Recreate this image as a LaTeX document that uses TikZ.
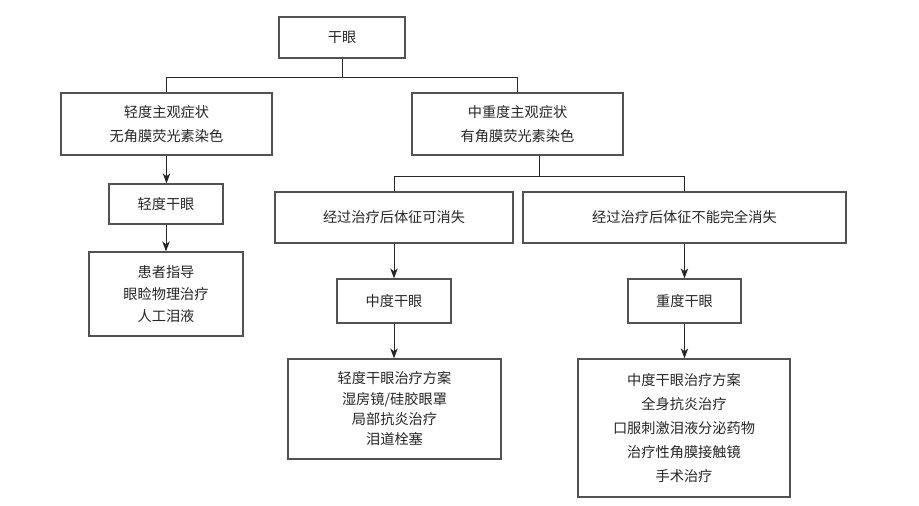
\documentclass[tikz,border=0pt]{standalone}
\usepackage{fontspec}
\newfontfamily\cjk{Noto Sans CJK SC}
\usetikzlibrary{arrows.meta}
\begin{document}
\begin{tikzpicture}[x=1pt,y=-1pt,
  box/.style={draw=black!68, line width=1.3pt, fill=white, inner sep=0pt, align=center,
    text=black!85, font=\cjk\fontsize{14.2}{24}\selectfont},
  link/.style={draw=black!85, line width=0.9pt},
  arr/.style={link, -{Stealth[length=10pt,width=7.5pt,inset=3pt]}}]
\useasboundingbox (0,0) rectangle (919,506);
\node[box, minimum width=126pt, minimum height=41pt] (gan) at (342,37.5) {干眼};
\node[box, minimum width=211pt, minimum height=62pt] (mild) at (166.5,124) {轻度主观症状\\无角膜荧光素染色};
\node[box, minimum width=211pt, minimum height=62pt] (modsev) at (517.5,124) {中重度主观症状\\有角膜荧光素染色};
\node[box, minimum width=114pt, minimum height=40pt] (mildDE) at (166,204) {轻度干眼};
\node[box, minimum width=154pt, minimum height=84pt, font=\cjk\fontsize{14.2}{22}\selectfont] (mildTx) at (166,294) {患者指导\\眼睑物理治疗\\人工泪液};
\node[box, minimum width=238pt, minimum height=51pt] (vanish) at (394,217.5) {经过治疗后体征可消失};
\node[box, minimum width=323pt, minimum height=51pt] (notvan) at (684.5,217.5) {经过治疗后体征不能完全消失};
\node[box, minimum width=114pt, minimum height=44pt] (modDE) at (394,301) {中度干眼};
\node[box, minimum width=113pt, minimum height=44pt] (sevDE) at (684.5,301) {重度干眼};
\node[box, minimum width=213pt, minimum height=100pt, font=\cjk\fontsize{14.2}{20.3}\selectfont] (modTx) at (394.5,409) {轻度干眼治疗方案\\湿房镜/硅胶眼罩\\局部抗炎治疗\\泪道栓塞};
\node[box, minimum width=212pt, minimum height=138pt, font=\cjk\fontsize{14.2}{24.2}\selectfont] (sevTx) at (684,428) {中度干眼治疗方案\\全身抗炎治疗\\口服刺激泪液分泌药物\\治疗性角膜接触镜\\手术治疗};
% tree connectors
\coordinate (j1) at (342,77);
\coordinate (j2) at (539,176);
\draw[link] (gan.south) -- (j1);
\draw[link] (mild.north) -- (mild.north |- j1) -- (modsev.north |- j1) -- (modsev.north);
\draw[link] (j2 |- modsev.south) -- (j2);
\draw[link] (vanish.north) -- (vanish.north |- j2) -- (notvan.north |- j2) -- (notvan.north);
% arrows
\draw[arr] (mild.south) -- (mild.south |- mildDE.north);
\draw[arr] (mildDE.south) -- (mildDE.south |- mildTx.north);
\draw[arr] (vanish.south) -- (modDE.north);
\draw[arr] (modDE.south) -- (modDE.south |- modTx.north);
\draw[arr] (notvan.south) -- (notvan.south |- sevDE.north);
\draw[arr] (sevDE.south) -- (sevDE.south |- sevTx.north);
\end{tikzpicture}
\end{document}
